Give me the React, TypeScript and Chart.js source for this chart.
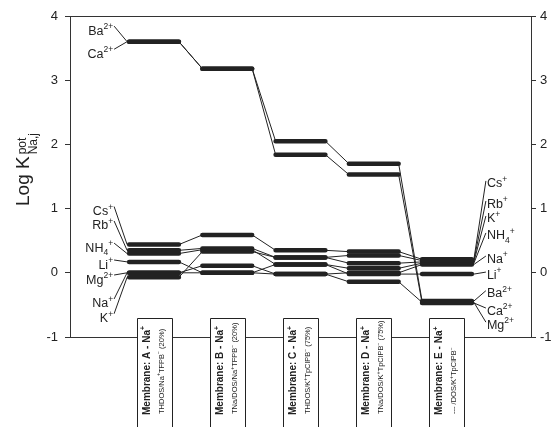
import React, { useEffect, useRef } from 'react';
import { Chart, registerables } from 'chart.js';
Chart.register(...registerables);

// ---------------- DATA ----------------
const membranes = ['A', 'B', 'C', 'D', 'E'];
const columnX = [1, 2, 3, 4, 5];
// log K(pot) Na,j for each interfering ion, per membrane A..E
const cs = [0.44, 0.59, 0.35, 0.33, 0.21];
const rb = [0.35, 0.38, 0.24, 0.27, 0.19];
const kk = [-0.07, 0.33, 0.24, 0.15, 0.17];
const nh4 = [0.30, 0.36, 0.13, 0.07, 0.15];
const na = [0.0, 0.11, -0.02, 0.0, 0.13];
const li = [0.17, 0.0, 0.13, -0.02, -0.02];
const mg = [0.0, 0.0, -0.02, -0.14, -0.46];
const ba = [3.6, 3.18, 2.05, 1.70, -0.44];
const ca = [3.6, 3.18, 1.84, 1.53, -0.47];
const yTicks = [-1, 0, 1, 2, 3, 4];

type Seg = { t: string; s?: 'sup' | 'sub' };

const ionNames: Seg[][] = [];
const series = [
  { id: 'Cs', label: [{ t: 'Cs' }, { t: '+', s: 'sup' }] as Seg[], values: cs },
  { id: 'Rb', label: [{ t: 'Rb' }, { t: '+', s: 'sup' }] as Seg[], values: rb },
  { id: 'K', label: [{ t: 'K' }, { t: '+', s: 'sup' }] as Seg[], values: kk },
  { id: 'NH4', label: [{ t: 'NH' }, { t: '4', s: 'sub' }, { t: '+', s: 'sup' }] as Seg[], values: nh4 },
  { id: 'Na', label: [{ t: 'Na' }, { t: '+', s: 'sup' }] as Seg[], values: na },
  { id: 'Li', label: [{ t: 'Li' }, { t: '+', s: 'sup' }] as Seg[], values: li },
  { id: 'Mg', label: [{ t: 'Mg' }, { t: '2+', s: 'sup' }] as Seg[], values: mg },
  { id: 'Ba', label: [{ t: 'Ba' }, { t: '2+', s: 'sup' }] as Seg[], values: ba },
  { id: 'Ca', label: [{ t: 'Ca' }, { t: '2+', s: 'sup' }] as Seg[], values: ca },
];

const boxTitles: Seg[][] = membranes.map((m) => [{ t: `Membrane: ${m} - Na` }, { t: '+', s: 'sup' }]);
const boxSubtitles: Seg[][] = [
  [{ t: 'THDOS/Na' }, { t: '+', s: 'sup' }, { t: 'TFPB' }, { t: '\u2212', s: 'sup' }, { t: ' (20%)' }],
  [{ t: 'TNa/DOS/Na' }, { t: '+', s: 'sup' }, { t: 'TFPB' }, { t: '\u2212', s: 'sup' }, { t: ' (20%)' }],
  [{ t: 'THDOS/K' }, { t: '+', s: 'sup' }, { t: 'TpClPB' }, { t: '\u2212', s: 'sup' }, { t: ' (75%)' }],
  [{ t: 'TNa/DOS/K' }, { t: '+', s: 'sup' }, { t: 'TpClPB' }, { t: '\u2212', s: 'sup' }, { t: ' (75%)' }],
  [{ t: '--- /DOS/K' }, { t: '+', s: 'sup' }, { t: 'TpClPB' }, { t: '\u2212', s: 'sup' }],
];

// ---------------- LAYOUT (label anchor heights in axis units) ----------------
const leftLabelAt: Record<string, number> = {
  Ba: 3.78, Ca: 3.42, Cs: 0.97, Rb: 0.745, NH4: 0.40, Li: 0.137, Mg: -0.097, Na: -0.47, K: -0.70,
};
const rightLabelAt: Record<string, number> = {
  Cs: 1.40, Rb: 1.087, K: 0.854, NH4: 0.59, Na: 0.23, Li: -0.02, Ba: -0.31, Ca: -0.58, Mg: -0.80,
};
const HALF = 0.34;
const FONT = '"Liberation Sans", Arial, Helvetica, sans-serif';
const INK = '#222';

function fontFor(size: number, bold: boolean, s?: string) {
  const sz = s ? size * 0.68 : size;
  return `${bold ? 'bold ' : ''}${sz}px ${FONT}`;
}
function measureRich(ctx: CanvasRenderingContext2D, segs: Seg[], size: number, bold = false) {
  let w = 0;
  for (const g of segs) {
    ctx.font = fontFor(size, bold, g.s);
    w += ctx.measureText(g.t).width;
  }
  return w;
}
function drawRich(ctx: CanvasRenderingContext2D, segs: Seg[], x: number, y: number, size: number, bold = false, align: 'left' | 'right' = 'left') {
  let cx = align === 'right' ? x - measureRich(ctx, segs, size, bold) : x;
  ctx.textAlign = 'left';
  ctx.textBaseline = 'alphabetic';
  for (const g of segs) {
    ctx.font = fontFor(size, bold, g.s);
    const dy = g.s === 'sup' ? -size * 0.42 : g.s === 'sub' ? size * 0.25 : 0;
    ctx.fillText(g.t, cx, y + dy);
    cx += ctx.measureText(g.t).width;
  }
}

const decorPlugin = {
  id: 'decor',
  afterDraw(chart: any) {
    const ctx: CanvasRenderingContext2D = chart.ctx;
    const xs = chart.scales.x;
    const ys = chart.scales.y;
    const area = chart.chartArea;
    ctx.save();
    ctx.fillStyle = INK;
    ctx.strokeStyle = INK;
    ctx.lineWidth = 1;

    // frame top / bottom
    ctx.strokeStyle = '#333';
    ctx.beginPath();
    ctx.moveTo(area.left, Math.round(area.top) + 0.5);
    ctx.lineTo(area.right, Math.round(area.top) + 0.5);
    ctx.moveTo(area.left, Math.round(area.bottom) + 0.5);
    ctx.lineTo(area.right, Math.round(area.bottom) + 0.5);
    ctx.stroke();

    // callouts
    ctx.strokeStyle = INK;
    const leftBar = xs.getPixelForValue(columnX[0] - HALF) - 2;
    const lastI = columnX.length - 1;
    const rightBar = xs.getPixelForValue(columnX[lastI] + HALF) + 2;
    const size = 12.5;
    for (const s of series) {
      const ly = ys.getPixelForValue(leftLabelAt[s.id]);
      const textRight = leftBar - 14;
      drawRich(ctx, s.label, textRight, ly + size * 0.36, size, false, 'right');
      ctx.beginPath();
      ctx.moveTo(textRight + 1, ly - 4);
      ctx.lineTo(leftBar, ys.getPixelForValue(s.values[0]));
      ctx.stroke();

      const ry = ys.getPixelForValue(rightLabelAt[s.id]);
      const textLeft = rightBar + 13;
      drawRich(ctx, s.label, textLeft, ry + size * 0.36, size, false, 'left');
      ctx.beginPath();
      ctx.moveTo(rightBar, ys.getPixelForValue(s.values[lastI]));
      ctx.lineTo(textLeft - 1, ry - 2);
      ctx.stroke();
    }

    // membrane boxes
    const boxTop = area.bottom - 19;
    columnX.forEach((c, i) => {
      const xc = xs.getPixelForValue(c);
      const bx = Math.round(xc - 17.5) + 0.5;
      ctx.fillStyle = '#fff';
      ctx.fillRect(bx, boxTop, 35, chart.height - boxTop + 5);
      ctx.strokeStyle = INK;
      ctx.beginPath();
      ctx.moveTo(bx, chart.height + 2);
      ctx.lineTo(bx, Math.round(boxTop) + 0.5);
      ctx.lineTo(bx + 35, Math.round(boxTop) + 0.5);
      ctx.lineTo(bx + 35, chart.height + 2);
      ctx.stroke();
      ctx.fillStyle = INK;
      ctx.save();
      ctx.translate(xc - 4.5, 415);
      ctx.rotate(-Math.PI / 2);
      drawRich(ctx, boxTitles[i], 0, 0, 10, true);
      ctx.restore();
      ctx.save();
      ctx.translate(xc + 9.5, 414);
      ctx.rotate(-Math.PI / 2);
      drawRich(ctx, boxSubtitles[i], 0, 0, 7.5, false);
      ctx.restore();
    });

    // y axis title
    ctx.fillStyle = INK;
    ctx.save();
    ctx.translate(29, 206);
    ctx.rotate(-Math.PI / 2);
    ctx.font = `19px ${FONT}`;
    ctx.textAlign = 'left';
    ctx.textBaseline = 'alphabetic';
    const main = 'Log K';
    ctx.fillText(main, 0, 0);
    const w = ctx.measureText(main).width + 2;
    ctx.font = `12px ${FONT}`;
    ctx.fillText('pot', w, -3);
    ctx.fillText('Na,j', w, 8);
    ctx.restore();

    ctx.restore();
  },
};

export default function App() {
  const ref = useRef<HTMLCanvasElement>(null);
  useEffect(() => {
    document.body.style.margin = '0';
    const canvas = ref.current!;
    const datasets: any[] = [];
    for (const s of series) {
      const conn: any[] = [];
      const bars: any[] = [];
      s.values.forEach((v, i) => {
        const c = columnX[i];
        conn.push({ x: c - HALF, y: v }, { x: c + HALF, y: v });
        bars.push({ x: c - HALF, y: v }, { x: c + HALF, y: v });
        if (i < s.values.length - 1) bars.push({ x: c + 0.5, y: null });
      });
      datasets.push({ label: s.id + ' link', data: conn, borderColor: INK, borderWidth: 1, pointRadius: 0, order: 3 });
      datasets.push({
        label: s.id, data: bars, borderColor: INK, borderWidth: 4.5, borderCapStyle: 'round',
        pointRadius: 0, order: 1, spanGaps: false,
      });
    }
    const yCommon = (pos: 'left' | 'right', width: number, pad: number) => ({
      type: 'linear' as const,
      position: pos,
      min: -1,
      max: 4,
      afterBuildTicks: (sc: any) => { sc.ticks = yTicks.map((v) => ({ value: v })); },
      afterFit: (sc: any) => { sc.width = width; },
      ticks: { color: INK, padding: pad, font: { family: FONT, size: 13 } },
      grid: { drawOnChartArea: false, drawTicks: true, tickLength: 5, color: '#333' },
      border: { display: true, color: '#333', width: 1 },
    });
    const chart = new Chart(canvas, {
      type: 'line',
      data: { datasets },
      options: {
        animation: false,
        responsive: false,
        devicePixelRatio: 1,
        layout: { padding: { top: 16, bottom: 90, left: 0, right: 0 } },
        plugins: { legend: { display: false }, tooltip: { enabled: false } },
        scales: {
          x: { type: 'linear', min: -0.147, max: 6.147, display: false },
          y: yCommon('left', 70, 7),
          y2: yCommon('right', 22, 4),
        },
      },
      plugins: [decorPlugin],
    });
    return () => chart.destroy();
  }, []);
  return (
    <div style={{ width: 553, height: 427 }}>
      <canvas ref={ref} width={553} height={427} style={{ display: 'block', width: 553, height: 427 }} />
    </div>
  );
}
